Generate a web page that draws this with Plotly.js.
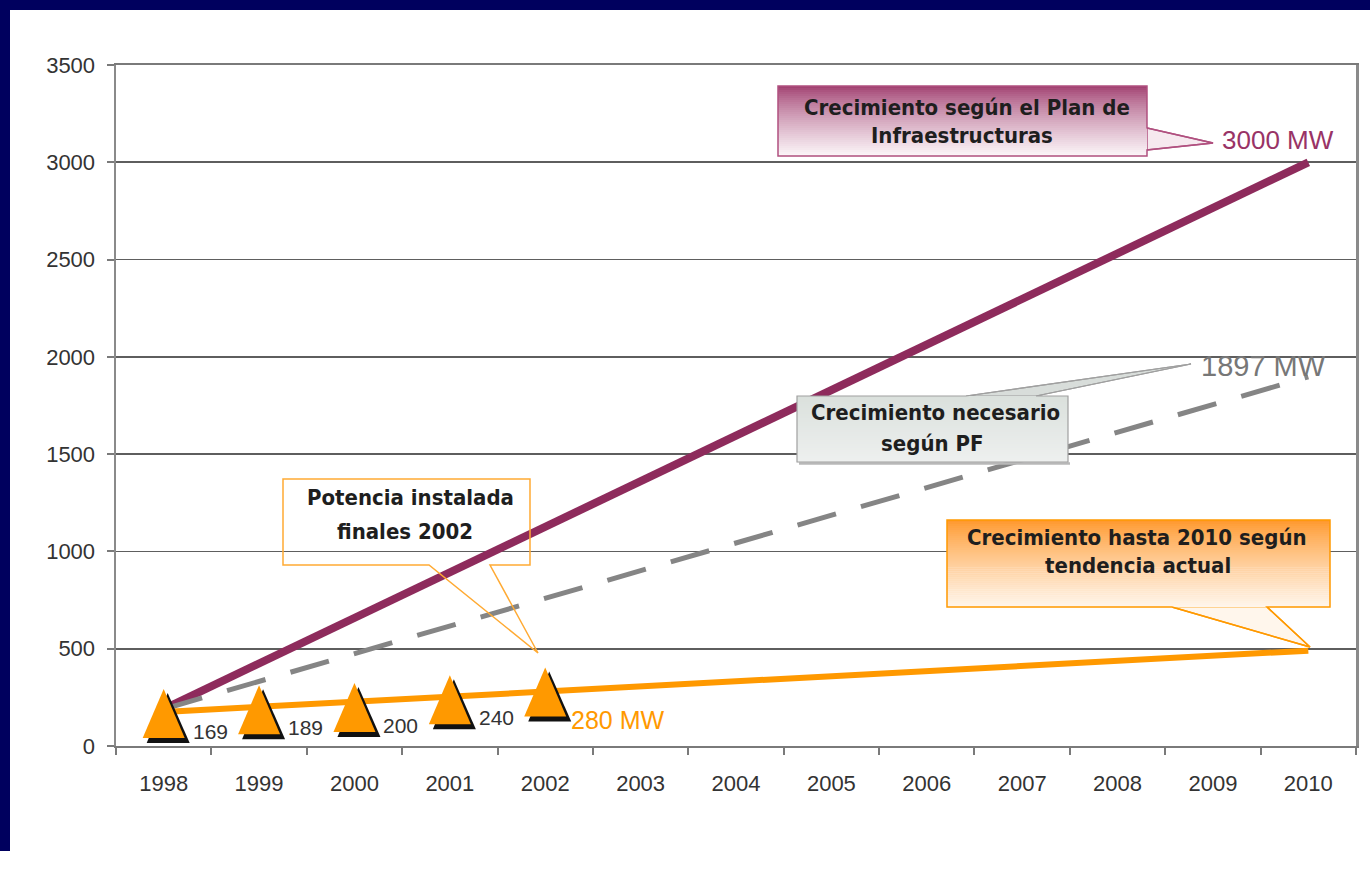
<!DOCTYPE html>
<html>
<head>
<meta charset="utf-8">
<script src="https://cdn.plot.ly/plotly-3.0.1.min.js"></script>
<style>
  html, body { margin: 0; padding: 0; background: #ffffff; }
  #chart { width: 1370px; height: 883px; }
</style>
</head>
<body>
<div id="chart"></div>
<script>
// Years on the category axis
const years = [1998, 1999, 2000, 2001, 2002, 2003, 2004, 2005, 2006, 2007, 2008, 2009, 2010];
const yearLabels = ['1998', '1999', '2000', '2001', '2002', '2003', '2004', '2005', '2006', '2007', '2008', '2009', '2010'];
const yTicks = [0, 500, 1000, 1500, 2000, 2500, 3000, 3500];

// Installed wind power (MW), end of each year
const installedYears = [1998, 1999, 2000, 2001, 2002];
const installedMW = [169, 189, 200, 240, 280];
const installedLabels = ['169', '189', '200', '240', '280 MW'];

// Growth paths to 2010 (MW)
const planYears = [1998, 2010];
const planMW = [190, 3000];          // Plan de Infraestructuras
const pfYears = [1998, 2010];
const pfMW = [190, 1897];            // needed according to PF
const trendYears = [1998, 2010];
const trendMW = [175, 490];          // current trend

// Plot area geometry in pixels
const L = 116, T = 65, W = 1240, H = 681, FULLW = 1370, FULLH = 883;
const px = v => (v - L) / W;
const py = v => 1 - (v - T) / H;

const FONT = 'Liberation Sans, Arial, sans-serif';
const NARROW = 'DejaVu Sans Condensed, Arial Narrow, sans-serif';
const ORANGE = '#ff9900';
const PURPLE = '#8e2b5c';

const traces = [
  { x: planYears, y: planMW, mode: 'lines', line: { color: PURPLE, width: 8 }, hoverinfo: 'skip' },
  { x: pfYears, y: pfMW, mode: 'lines', line: { color: '#858585', width: 5, dash: '40px,26px' }, hoverinfo: 'skip' },
  { x: trendYears, y: trendMW, mode: 'lines', line: { color: ORANGE, width: 6 }, hoverinfo: 'skip' }
];

const shapes = [];
const annotations = [];

// Navy frame along the top and left edges
shapes.push({ type: 'rect', xref: 'paper', yref: 'paper', x0: px(0), x1: px(FULLW), y0: py(0), y1: py(10),
  fillcolor: '#00005e', line: { width: 0 }, layer: 'above' });
shapes.push({ type: 'rect', xref: 'paper', yref: 'paper', x0: px(0), x1: px(10), y0: py(0), y1: py(851),
  fillcolor: '#00005e', line: { width: 0 }, layer: 'above' });

// Triangle markers with a dark drop shadow, anchored on the data points
installedYears.forEach((yr, i) => {
  const common = { type: 'path', xref: 'x', yref: 'y', xsizemode: 'pixel', ysizemode: 'pixel',
    xanchor: yr, yanchor: installedMW[i], layer: 'above', line: { width: 0 } };
  shapes.push(Object.assign({}, common, { path: 'M -17,-30 L 26,-30 L 4,20 Z', fillcolor: '#111111' }));
  shapes.push(Object.assign({}, common, { path: 'M -21,-25 L 21,-25 L 0,24 Z', fillcolor: ORANGE }));
  const last = i === installedYears.length - 1;
  annotations.push({ x: yr, y: installedMW[i], xref: 'x', yref: 'y', text: installedLabels[i],
    showarrow: false, xanchor: 'left', yanchor: 'middle',
    xshift: last ? 24 : 27, yshift: last ? -28 : -18,
    font: { family: FONT, size: last ? 25 : 21, color: last ? ORANGE : '#333333' } });
});

// End-of-line value labels
annotations.push({ x: planYears[1], y: planMW[1], xref: 'x', yref: 'y', text: planMW[1] + ' MW',
  showarrow: false, xanchor: 'center', yanchor: 'middle', xshift: -30, yshift: 22,
  font: { family: FONT, size: 26, color: '#993366' } });
annotations.push({ x: pfYears[1], y: pfMW[1], xref: 'x', yref: 'y', text: pfMW[1] + ' MW',
  showarrow: false, xanchor: 'center', yanchor: 'middle', xshift: -45, yshift: 11,
  font: { family: FONT, size: 29, color: '#777777' } });

// Vertical gradient made of thin strips
function mix(a, b, t) {
  return 'rgb(' + a.map((c, k) => Math.round(c + (b[k] - c) * t)).join(',') + ')';
}
function gradientBox(x0, y0, x1, y1, top, bottom, gamma) {
  const n = Math.ceil((y1 - y0) / 2);
  for (let k = 0; k < n; k++) {
    const a = y0 + (y1 - y0) * k / n, b = y0 + (y1 - y0) * (k + 1) / n + 0.4;
    shapes.push({ type: 'rect', xref: 'paper', yref: 'paper', x0: px(x0), x1: px(x1), y0: py(a), y1: py(b),
      fillcolor: mix(top, bottom, Math.pow((k + 0.5) / n, gamma)), line: { width: 0 }, layer: 'above' });
  }
}
function outline(points, color, width, fill) {
  const d = points.map((p, k) => (k ? 'L' : 'M') + px(p[0]).toFixed(5) + ',' + py(p[1]).toFixed(5)).join(' ') + ' Z';
  shapes.push({ type: 'path', xref: 'paper', yref: 'paper', path: d,
    fillcolor: fill || 'rgba(0,0,0,0)', line: { color: color, width: width }, layer: 'above' });
}
function calloutText(lines) {
  lines.forEach(l => annotations.push({ xref: 'paper', yref: 'paper', x: px(l[1]), y: py(l[2]),
    text: '<b>' + l[0] + '</b>', showarrow: false, xanchor: 'center', yanchor: 'middle',
    font: { family: NARROW, size: 22, color: '#1e1e1e' } }));
}

// Callout: Plan de Infraestructuras
outline([[1147, 128], [1213, 143], [1147, 150]], '#b0507f', 1.5, '#f6e9ef');
gradientBox(778, 86, 1147, 156, [158, 58, 108], [252, 246, 249], 0.75);
outline([[778, 86], [1147, 86], [1147, 128], [1213, 143], [1147, 150], [1147, 156], [778, 156]], '#b0507f', 1.5);
calloutText([['Crecimiento según el Plan de', 967, 107], ['Infraestructuras', 962, 135]]);

// Callout: needed growth according to PF
outline([[966, 396], [1191, 364], [1036, 396]], '#9a9a9a', 1.2, '#d8ddda');
gradientBox(797, 396, 1068, 462, [218, 224, 220], [238, 240, 239], 1);
shapes.push({ type: 'line', xref: 'paper', yref: 'paper', x0: px(799), x1: px(1070), y0: py(463.5), y1: py(463.5),
  line: { color: '#b8b8b8', width: 2.5 }, layer: 'above' });
outline([[797, 396], [966, 396], [1191, 364], [1036, 396], [1068, 396], [1068, 462], [797, 462]], '#a0a0a0', 1.2);
calloutText([['Crecimiento necesario', 935, 412], ['según PF', 932, 443]]);

// Callout: trend to 2010
outline([[1172, 607], [1310, 647], [1267, 607]], ORANGE, 1.5, '#fff6ec');
gradientBox(947, 520, 1330, 607, [255, 150, 40], [255, 246, 236], 0.8);
outline([[947, 520], [1330, 520], [1330, 607], [1267, 607], [1310, 647], [1172, 607], [947, 607]], ORANGE, 1.5);
calloutText([['Crecimiento hasta 2010 según', 1137, 537], ['tendencia actual', 1138, 565]]);

// Callout: installed power at the end of 2002
outline([[283, 479], [530, 479], [530, 565], [490, 565], [538, 653], [429, 565], [283, 565]], '#ffaa33', 1.5);
calloutText([['Potencia instalada', 410, 497], ['finales 2002', 405, 531]]);

const layout = {
  width: FULLW, height: FULLH,
  margin: { l: L, r: FULLW - L - W, t: T, b: FULLH - T - H, pad: 0 },
  paper_bgcolor: '#ffffff', plot_bgcolor: '#ffffff',
  showlegend: false,
  xaxis: {
    range: [1997.5, 2010.5], tickmode: 'array', tickvals: years, ticktext: yearLabels,
    ticks: '', showgrid: false, zeroline: false, fixedrange: true,
    showline: true, linecolor: '#7a7a7a', linewidth: 2, mirror: true,
    minor: { tick0: 1997.5, dtick: 1, ticks: 'outside', ticklen: 7, tickwidth: 2, tickcolor: '#7a7a7a', showgrid: false },
    tickfont: { family: FONT, size: 22, color: '#333333' }, ticklabelstandoff: 17
  },
  yaxis: {
    range: [0, 3500], tickmode: 'array', tickvals: yTicks,
    ticks: 'outside', ticklen: 7, tickwidth: 2, tickcolor: '#7a7a7a',
    showgrid: true, gridcolor: '#5e5e5e', gridwidth: 1.6, zeroline: false, fixedrange: true,
    showline: true, linecolor: '#8a8a8a', linewidth: 2.5, mirror: true,
    tickfont: { family: FONT, size: 22, color: '#333333' }, ticklabelstandoff: 7
  },
  shapes: shapes,
  annotations: annotations
};

Plotly.newPlot('chart', traces, layout, { displayModeBar: false, staticPlot: true });
</script>
</body>
</html>
